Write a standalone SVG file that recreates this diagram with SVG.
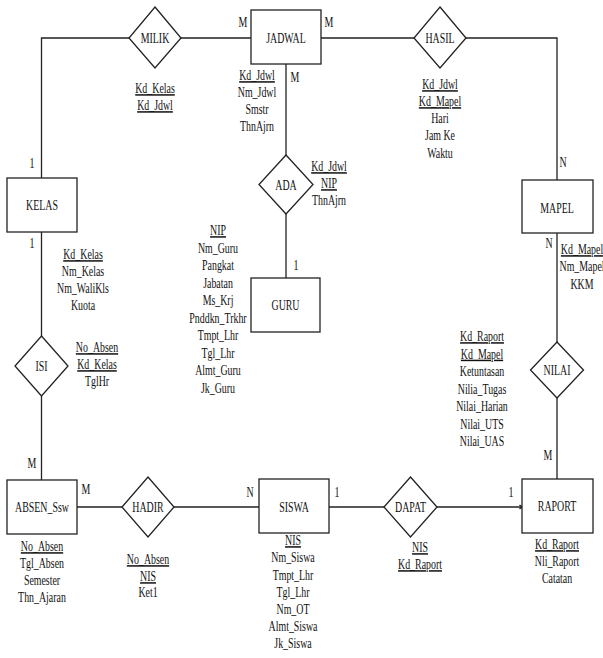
<svg xmlns="http://www.w3.org/2000/svg" width="603" height="658" viewBox="0 0 603 658">
<style>
text{font-family:"Liberation Serif","Times New Roman",serif;font-size:15px;fill:#111;text-anchor:middle}
.u{text-decoration:underline}
.box{fill:#fff;stroke:#222;stroke-width:1.3}
.con{fill:none;stroke:#222;stroke-width:1.3}
</style>
<rect width="603" height="658" fill="#fff"/>
<g id="connectors" class="con">
<path d="M251 38H181M129 38H41.5V178"/>
<path d="M321 38H414M466 38H557V180"/>
<path d="M286 64V155M286 214V278"/>
<path d="M41.5 232V336M41.5 396V480"/>
<path d="M77 507H122M174 507H259"/>
<path d="M329 507H384M437 507H522"/>
<path d="M557 233V342M557 398V479"/>
<path d="M519.5 505L522 507L519.5 509" stroke-width="1.4"/>
</g>
<g id="JADWAL"><rect class="box" x="251" y="10" width="70" height="54"/><text transform="translate(286,43) scale(0.66,1)">JADWAL</text>
<text transform="translate(257,80) scale(0.66,1)" class="u">Kd_Jdwl</text>
<text transform="translate(257,97) scale(0.66,1)">Nm_Jdwl</text>
<text transform="translate(257,114) scale(0.66,1)">Smstr</text>
<text transform="translate(257,131) scale(0.66,1)">ThnAjrn</text></g>
<g id="MILIK"><polygon class="box" points="155,7 181,38 155,68 129,38"/><text transform="translate(155,43) scale(0.66,1)">MILIK</text>
<text transform="translate(155,93) scale(0.66,1)" class="u">Kd_Kelas</text>
<text transform="translate(155,110) scale(0.66,1)" class="u">Kd_Jdwl</text></g>
<g id="HASIL"><polygon class="box" points="440,7 466,38 440,68 414,38"/><text transform="translate(440,43) scale(0.66,1)">HASIL</text>
<text transform="translate(440,89) scale(0.66,1)" class="u">Kd_Jdwl</text>
<text transform="translate(440,106) scale(0.66,1)" class="u">Kd_Mapel</text>
<text transform="translate(440,123) scale(0.66,1)">Hari</text>
<text transform="translate(440,140) scale(0.66,1)">Jam Ke</text>
<text transform="translate(440,158) scale(0.66,1)">Waktu</text></g>
<g id="ADA"><polygon class="box" points="286,155 313,184.5 286,214 259,184.5"/><text transform="translate(286,190) scale(0.66,1)">ADA</text>
<text transform="translate(329,171) scale(0.66,1)" class="u">Kd_Jdwl</text>
<text transform="translate(329,188) scale(0.66,1)" class="u">NIP</text>
<text transform="translate(329,205) scale(0.66,1)">ThnAjrn</text></g>
<g id="GURU"><rect class="box" x="251" y="278" width="69" height="54"/><text transform="translate(285.5,310) scale(0.66,1)">GURU</text>
<text transform="translate(218,235) scale(0.66,1)" class="u">NIP</text>
<text transform="translate(218,252.5) scale(0.66,1)">Nm_Guru</text>
<text transform="translate(218,270) scale(0.66,1)">Pangkat</text>
<text transform="translate(218,287.5) scale(0.66,1)">Jabatan</text>
<text transform="translate(218,305) scale(0.66,1)">Ms_Krj</text>
<text transform="translate(218,322.5) scale(0.66,1)">Pnddkn_Trkhr</text>
<text transform="translate(218,340) scale(0.66,1)">Tmpt_Lhr</text>
<text transform="translate(218,357.5) scale(0.66,1)">Tgl_Lhr</text>
<text transform="translate(218,375) scale(0.66,1)">Almt_Guru</text>
<text transform="translate(218,392.5) scale(0.66,1)">Jk_Guru</text></g>
<g id="KELAS"><rect class="box" x="7" y="178" width="70" height="54"/><text transform="translate(42,210) scale(0.66,1)">KELAS</text>
<text transform="translate(83,259) scale(0.66,1)" class="u">Kd_Kelas</text>
<text transform="translate(83,276) scale(0.66,1)">Nm_Kelas</text>
<text transform="translate(83,293) scale(0.66,1)">Nm_WaliKls</text>
<text transform="translate(83,310) scale(0.66,1)">Kuota</text></g>
<g id="MAPEL"><rect class="box" x="522" y="180" width="71" height="53"/><text transform="translate(557,213) scale(0.66,1)">MAPEL</text>
<text transform="translate(582,254) scale(0.66,1)" class="u">Kd_Mapel</text>
<text transform="translate(582,271) scale(0.66,1)">Nm_Mapel</text>
<text transform="translate(582,289) scale(0.66,1)">KKM</text></g>
<g id="ISI"><polygon class="box" points="41.5,336 68,366 41.5,396 15,366"/><text transform="translate(41.5,371) scale(0.66,1)">ISI</text>
<text transform="translate(97,352) scale(0.66,1)" class="u">No_Absen</text>
<text transform="translate(97,369) scale(0.66,1)" class="u">Kd_Kelas</text>
<text transform="translate(97,386) scale(0.66,1)">TglHr</text></g>
<g id="NILAI"><polygon class="box" points="557,342 583.5,370 557,398 530.5,370"/><text transform="translate(557,375) scale(0.66,1)">NILAI</text>
<text transform="translate(482,341) scale(0.66,1)" class="u">Kd_Raport</text>
<text transform="translate(482,358.5) scale(0.66,1)" class="u">Kd_Mapel</text>
<text transform="translate(482,376) scale(0.66,1)">Ketuntasan</text>
<text transform="translate(482,393.5) scale(0.66,1)">Nilia_Tugas</text>
<text transform="translate(482,411) scale(0.66,1)">Nilai_Harian</text>
<text transform="translate(482,428.5) scale(0.66,1)">Nilai_UTS</text>
<text transform="translate(482,446) scale(0.66,1)">Nilai_UAS</text></g>
<g id="ABSEN_Ssw"><rect class="box" x="7" y="480" width="70" height="54"/><text transform="translate(42,512) scale(0.66,1)">ABSEN_Ssw</text>
<text transform="translate(42,551) scale(0.66,1)" class="u">No_Absen</text>
<text transform="translate(42,568) scale(0.66,1)">Tgl_Absen</text>
<text transform="translate(42,585) scale(0.66,1)">Semester</text>
<text transform="translate(42,602) scale(0.66,1)">Thn_Ajaran</text></g>
<g id="HADIR"><polygon class="box" points="148,477 174,507 148,537 122,507"/><text transform="translate(148,512) scale(0.66,1)">HADIR</text>
<text transform="translate(148,564) scale(0.66,1)" class="u">No_Absen</text>
<text transform="translate(148,581) scale(0.66,1)" class="u">NIS</text>
<text transform="translate(148,597) scale(0.66,1)">Ket1</text></g>
<g id="SISWA"><rect class="box" x="259" y="479" width="70" height="54"/><text transform="translate(294,512) scale(0.66,1)">SISWA</text>
<text transform="translate(293,545) scale(0.66,1)" class="u">NIS</text>
<text transform="translate(293,562) scale(0.66,1)">Nm_Siswa</text>
<text transform="translate(293,579.5) scale(0.66,1)">Tmpt_Lhr</text>
<text transform="translate(293,596.5) scale(0.66,1)">Tgl_Lhr</text>
<text transform="translate(293,614) scale(0.66,1)">Nm_OT</text>
<text transform="translate(293,631) scale(0.66,1)">Almt_Siswa</text>
<text transform="translate(293,648) scale(0.66,1)">Jk_Siswa</text></g>
<g id="DAPAT"><polygon class="box" points="410.5,477 437,507 410.5,537 384,507"/><text transform="translate(410.5,512) scale(0.66,1)">DAPAT</text>
<text transform="translate(420,552) scale(0.66,1)" class="u">NIS</text>
<text transform="translate(420,569) scale(0.66,1)" class="u">Kd_Raport</text></g>
<g id="RAPORT"><rect class="box" x="522" y="479" width="71" height="54"/><text transform="translate(557,511) scale(0.66,1)">RAPORT</text>
<text transform="translate(557,549) scale(0.66,1)" class="u">Kd_Raport</text>
<text transform="translate(557,566) scale(0.66,1)">Nli_Raport</text>
<text transform="translate(557,583) scale(0.66,1)">Catatan</text></g>
<g id="cardinality">
<text transform="translate(243,27) scale(0.66,1)">M</text>
<text transform="translate(329,27) scale(0.66,1)">M</text>
<text transform="translate(295,82) scale(0.66,1)">M</text>
<text transform="translate(32,168) scale(0.66,1)">1</text>
<text transform="translate(32,248) scale(0.66,1)">1</text>
<text transform="translate(296,270) scale(0.66,1)">1</text>
<text transform="translate(563,167) scale(0.66,1)">N</text>
<text transform="translate(549,248) scale(0.66,1)">N</text>
<text transform="translate(32,468) scale(0.66,1)">M</text>
<text transform="translate(548,460) scale(0.66,1)">M</text>
<text transform="translate(86,494) scale(0.66,1)">M</text>
<text transform="translate(250,497) scale(0.66,1)">N</text>
<text transform="translate(337,497) scale(0.66,1)">1</text>
<text transform="translate(511,497) scale(0.66,1)">1</text>
</g>
</svg>
